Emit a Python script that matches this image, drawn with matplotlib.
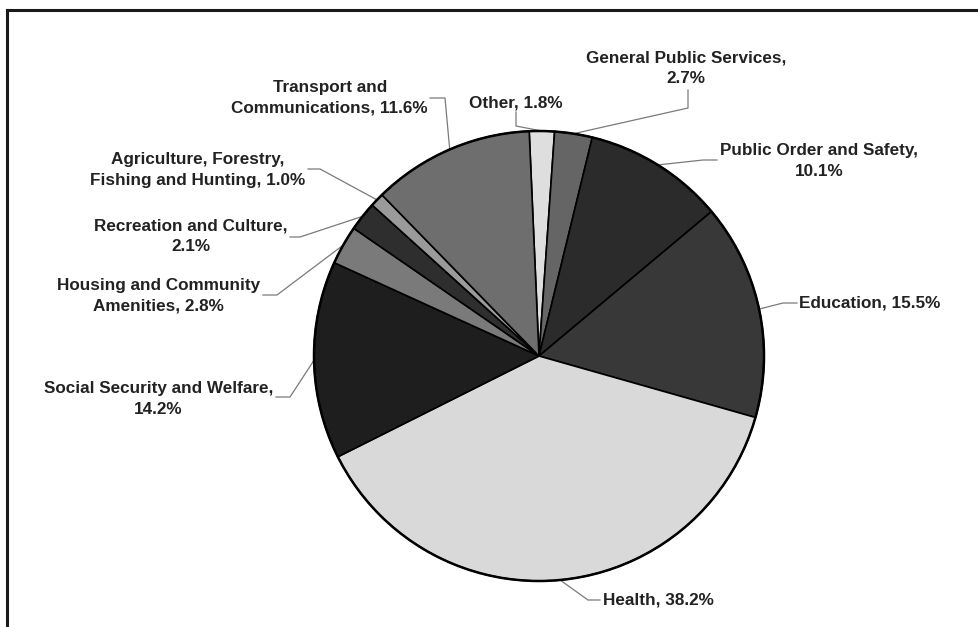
import numpy as np
import matplotlib.pyplot as plt
from matplotlib.patches import Circle

W, H = 979, 627

categories = [
    "Other", "General Public Services", "Public Order and Safety", "Education",
    "Health", "Social Security and Welfare", "Housing and Community Amenities",
    "Recreation and Culture", "Agriculture, Forestry, Fishing and Hunting",
    "Transport and Communications",
]
shares = [1.8, 2.7, 10.1, 15.5, 38.2, 14.2, 2.8, 2.1, 1.0, 11.6]
label_texts = [
    "Other, 1.8%",
    "General Public Services,\n2.7%",
    "Public Order and Safety,\n10.1%",
    "Education, 15.5%",
    "Health, 38.2%",
    "Social Security and Welfare,\n14.2%",
    "Housing and Community\nAmenities, 2.8%",
    "Recreation and Culture,\n2.1%",
    "Agriculture, Forestry,\nFishing and Hunting, 1.0%",
    "Transport and\nCommunications, 11.6%",
]
colors = ["#dedede", "#656565", "#2b2b2b", "#383838", "#d9d9d9",
          "#1e1e1e", "#7a7a7a", "#2e2e2e", "#9a9a9a", "#6e6e6e"]

# label placement in pixel space: (text x, text y, ha, elbow, leader end)
placement = [
    (516, 103, "center", (516, 126), (516, 112)),
    (686, 68, "center", (688, 108), (688, 90)),
    (720, 161, "left", (703, 160), (717, 160)),
    (799, 303, "left", (783, 303), (797, 303)),
    (603, 600, "left", (588, 600), (600, 600)),
    (273, 399, "right", (290, 397), (276, 397)),
    (260, 296, "right", (277, 295), (263, 295)),
    (288, 236, "right", (300, 237), (290, 237)),
    (305, 170, "right", (320, 169), (308, 169)),
    (428, 98, "right", (445, 98), (430, 98)),
]

cx, cy, r = 539, 356, 225


def fy(y):
    # pixel row -> data y
    return H - y


plt.rcParams["font.family"] = ["Liberation Sans", "DejaVu Sans"]
fig = plt.figure(figsize=(W / 100, H / 100), dpi=100)
ax = fig.add_axes([0, 0, 1, 1])

wedges, _ = ax.pie(
    shares, colors=colors, startangle=92.5, counterclock=False,
    center=(cx, fy(cy)), radius=r,
    wedgeprops=dict(edgecolor="black", linewidth=1.2),
)
# heavier outline around the whole pie
ax.add_patch(Circle((cx, fy(cy)), r, fill=False, edgecolor="black", lw=1.8))
ax.set_xlim(0, W)
ax.set_ylim(0, H)
ax.set_aspect("equal")
ax.axis("off")

for w, text, (tx, ty, ha, elbow, end) in zip(wedges, label_texts, placement):
    mid = np.deg2rad((w.theta1 + w.theta2) / 2)
    sx = cx + r * np.cos(mid)
    sy = fy(cy) + r * np.sin(mid)
    ax.plot([sx, elbow[0], end[0]], [sy, fy(elbow[1]), fy(end[1])],
            color="#7a7a7a", lw=0.9, zorder=0)
    ax.text(tx, fy(ty), text, ha=ha, va="center", multialignment="center",
            fontsize=12.3, fontweight="bold", color="#222222", linespacing=1.48)

# partial border: top and left edges only
ax.plot([7, W], [fy(10), fy(10)], color="#1a1a1a", lw=2.2, clip_on=False)
ax.plot([7, 7], [fy(10), 0], color="#1a1a1a", lw=2.2, clip_on=False)

fig.savefig("out.png", dpi=100)
